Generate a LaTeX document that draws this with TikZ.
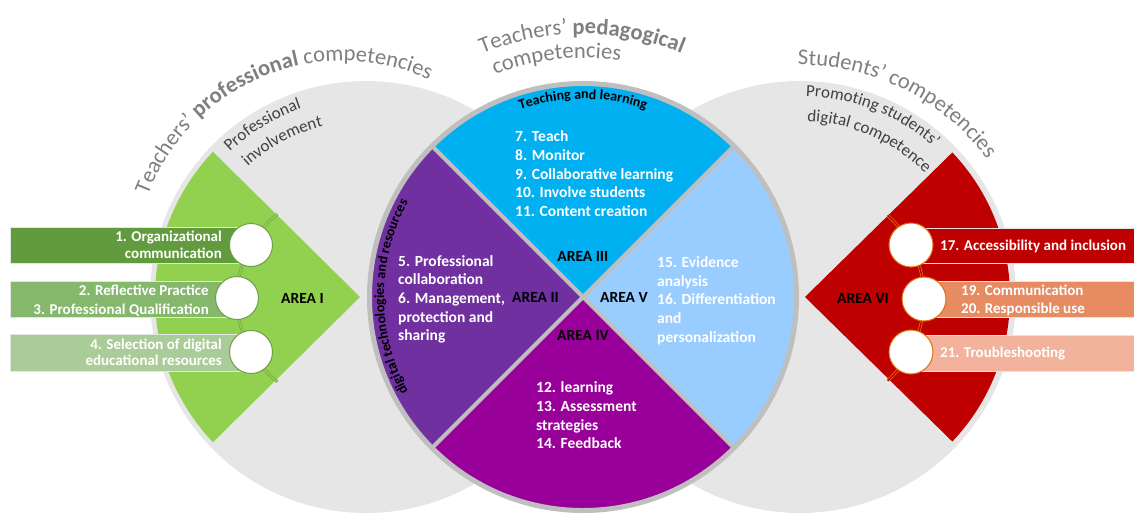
\documentclass[tikz,border=0pt]{standalone}
\usepackage{fontspec}
\setmainfont{Carlito}
\usetikzlibrary{decorations.text}
\definecolor{bggray}{HTML}{E6E6E6}
\definecolor{ringgray}{HTML}{BFBFBF}
\definecolor{ttlgray}{HTML}{7F7F7F}
\definecolor{subgray}{HTML}{404040}
\definecolor{agreen}{HTML}{92D050}
\definecolor{ared}{HTML}{BE0000}
\definecolor{cblue}{HTML}{00B0F0}
\definecolor{cpurple}{HTML}{7030A0}
\definecolor{cmagenta}{HTML}{990099}
\definecolor{clblue}{HTML}{99CCFF}
\definecolor{boxa}{HTML}{629B3E}
\definecolor{boxb}{HTML}{85B76C}
\definecolor{boxc}{HTML}{AACC98}
\definecolor{boxd}{HTML}{BE0000}
\definecolor{boxe}{HTML}{E68B62}
\definecolor{boxf}{HTML}{F2B29C}
\definecolor{lgreen}{HTML}{6E9E48}
\definecolor{lorange}{HTML}{E46C0A}
\definecolor{boxedge}{HTML}{E4E4E4}
\newcommand{\ml}[1]{\begin{tabular}[t]{@{}l@{}}#1\end{tabular}}
\newcommand{\mr}[1]{\begin{tabular}[t]{@{}r@{}}#1\end{tabular}}
\newcommand{\ttlf}{\fontsize{22.5}{26}\selectfont}
\newcommand{\subf}{\fontsize{17}{20}\selectfont}
\newcommand{\arcf}{\fontsize{14}{16}\selectfont\bfseries}
\tikzset{
  body/.style={text=white, font=\fontsize{15.5}{18.7}\selectfont\bfseries, inner sep=0, anchor=base west},
  boxtxt/.style={text=white, inner sep=0},
  area/.style={font=\fontsize{15.5}{18}\selectfont\bfseries, text=black, inner sep=0},
  dotg/.style={circle, fill=white, draw=lgreen, minimum size=43pt, inner sep=0, line width=1pt},
  doto/.style={circle, fill=white, draw=lorange, minimum size=44pt, inner sep=0, line width=1pt},
  boxline/.style={draw=boxedge, line width=1pt},
  sep/.style={draw=ringgray, line width=4pt},
  dblg/.style={draw=lgreen, double=agreen, line width=0.6pt, double distance=1.6pt},
  dblo/.style={draw=lorange, double=ared, line width=0.8pt, double distance=1.4pt},
}
\begin{document}
\begin{tikzpicture}[x=1pt,y=1pt]
\useasboundingbox (0,0) rectangle (1134,-515);
\clip (0,0) rectangle (1134,-515);
% gray circles
\fill[bggray] (366,-297) circle[radius=216];
\fill[bggray] (800,-297) circle[radius=216];
% green and red sectors
\fill[agreen] (366,-297) ++(136.5:211) arc[start angle=136.5,end angle=223.5,radius=211] -- (360,-297) -- cycle;
\fill[ared] (800,-297) ++(43.5:210) arc[start angle=43.5,end angle=-43.5,radius=210] -- (805,-297) -- cycle;
% double arcs
\draw[dblg] (344,-298) ++(128.5:107) arc[start angle=128.5,end angle=231.5,radius=107];
\draw[dblo] (812,-298) ++(47.5:112) arc[start angle=47.5,end angle=-47.5,radius=112];
% left boxes
\fill[boxa] (10,-227) rectangle (251,-263);
\draw[boxline] (10,-227) rectangle (251,-263);
\fill[boxb] (10,-281) rectangle (237,-317);
\draw[boxline] (10,-281) rectangle (237,-317);
\fill[boxc] (10,-334) rectangle (251,-371);
\draw[boxline] (10,-334) rectangle (251,-371);
% right boxes
\fill[boxd] (911,-228) rectangle (1140,-263);
\draw[boxline] (911,-228) rectangle (1140,-263);
\fill[boxe] (924,-281) rectangle (1140,-317);
\draw[boxline] (924,-281) rectangle (1140,-317);
\fill[boxf] (911,-335) rectangle (1140,-371);
\draw[boxline] (911,-335) rectangle (1140,-371);
% white circles
\node[dotg] (c1) at (251,-245) {};
\node[dotg] (c2) at (237,-298) {};
\node[dotg] (c3) at (251,-352) {};
\node[doto] (c4) at (911,-245) {};
\node[doto] (c5) at (924,-299) {};
\node[doto] (c6) at (911,-352) {};
% box texts
\node[boxtxt, anchor=base east, font=\fontsize{15}{16.5}\selectfont\bfseries] (t1) at (222,-241.7) {\mr{1. Organizational\\communication}};
\node[boxtxt, anchor=base east, font=\fontsize{15}{18.4}\selectfont\bfseries] (t2) at (209,-295.7) {\mr{2. Reflective Practice\\3. Professional Qualification}};
\node[boxtxt, anchor=base east, font=\fontsize{15}{16.7}\selectfont\bfseries] (t3) at (222,-349) {\mr{4. Selection of digital\\educational resources}};
\node[boxtxt, anchor=base west, font=\fontsize{15}{18}\selectfont\bfseries] (t4) at (940,-250.5) {17. Accessibility and inclusion};
\node[boxtxt, anchor=base west, font=\fontsize{15}{18}\selectfont\bfseries] (t5) at (961,-295) {\ml{19. Communication\\20. Responsible use}};
\node[boxtxt, anchor=base west, font=\fontsize{15}{18}\selectfont\bfseries] (t6) at (940,-357.7) {21. Troubleshooting};
% central circle
\fill[cblue] (583,-297) -- ++(45:214) arc[start angle=45,end angle=135,radius=214] -- cycle;
\fill[cpurple] (583,-297) -- ++(135:214) arc[start angle=135,end angle=225,radius=214] -- cycle;
\fill[cmagenta] (583,-297) -- ++(225:214) arc[start angle=225,end angle=315,radius=214] -- cycle;
\fill[clblue] (583,-297) -- ++(-45:214) arc[start angle=-45,end angle=45,radius=214] -- cycle;
\draw[sep] (583,-297) ++(45:213) -- ++(225:426);
\draw[sep] (583,-297) ++(135:213) -- ++(-45:426);
\draw[draw=ringgray, line width=5pt] (583,-297) circle[radius=213.5];
% central texts
\node[body] (q3) at (515,-141.7) {\ml{7. Teach\\8. Monitor\\9. Collaborative learning\\10. Involve students\\11. Content creation}};
\node[body] (q2) at (398,-266) {\ml{5. Professional\\collaboration\\6. Management,\\protection and\\sharing}};
\node[body] (q4) at (536,-392.7) {\ml{12. learning\\13. Assessment\\strategies\\14. Feedback}};
\node[body] (q5) at (657,-267.3) {\ml{15. Evidence\\analysis\\16. Differentiation\\and\\personalization}};
% area labels
\node[area] (a1) at (302.5,-298) {AREA I};
\node[area] (a2) at (535.5,-297.3) {AREA II};
\node[area] (a3) at (582.8,-256.7) {AREA III};
\node[area] (a4) at (583,-335.7) {AREA IV};
\node[area] (a5) at (624,-297.5) {AREA V};
\node[area] (a6) at (863,-298) {AREA VI};
% curved texts in central circle
\path[decorate, decoration={text along path, text color=black, text align=center, text={|\arcf|Teaching and learning}}]
  (583,-297) ++(125:198) arc[start angle=125,end angle=55,radius=198];
\path[decorate, decoration={text along path, text color=black, text align=center, text={|\arcf|digital technologies and resources}}]
  (583,-297) ++(220:199) arc[start angle=220,end angle=140,radius=199];
% titles
\path[decorate, decoration={text along path, text color=ttlgray, text={|\ttlf|Teachers’ |\ttlf\bfseries|professional |\ttlf|competencies}}]
  (343,-270) ++(159:209) arc[start angle=159,end angle=20,radius=209];
\path[decorate, decoration={text along path, text color=ttlgray, text={|\ttlf|Teachers' |\ttlf\bfseries|pedagogical}}]
  (583,-297) ++(112.5:263) arc[start angle=112.5,end angle=40,radius=263];
\path[decorate, decoration={text along path, text color=ttlgray, text={|\ttlf|competencies}}]
  (583,-297) ++(111.6:239) arc[start angle=111.6,end angle=50,radius=239];
\path[decorate, decoration={text along path, text color=ttlgray, text={|\ttlf|Students’ competencies}}]
  (800,-297) ++(90.5:232) arc[start angle=90.5,end angle=0,radius=232];
% subtitles
\path[decorate, decoration={text along path, text color=subgray, text={|\subf|Professional}}]
  (366,-297) ++(133.2:199) arc[start angle=133.2,end angle=70,radius=199];
\path[decorate, decoration={text along path, text color=subgray, text={|\subf|involvement}}]
  (366,-297) ++(132.2:176) arc[start angle=132.2,end angle=70,radius=176];
\path[decorate, decoration={text along path, text color=subgray, text={|\subf|Promoting students’}}]
  (800,-297) ++(88.3:201) arc[start angle=88.3,end angle=20,radius=201];
\path[decorate, decoration={text along path, text color=subgray, text={|\subf|digital competence}}]
  (800,-297) ++(87.7:176) arc[start angle=87.7,end angle=20,radius=176];
\end{tikzpicture}
\end{document}
